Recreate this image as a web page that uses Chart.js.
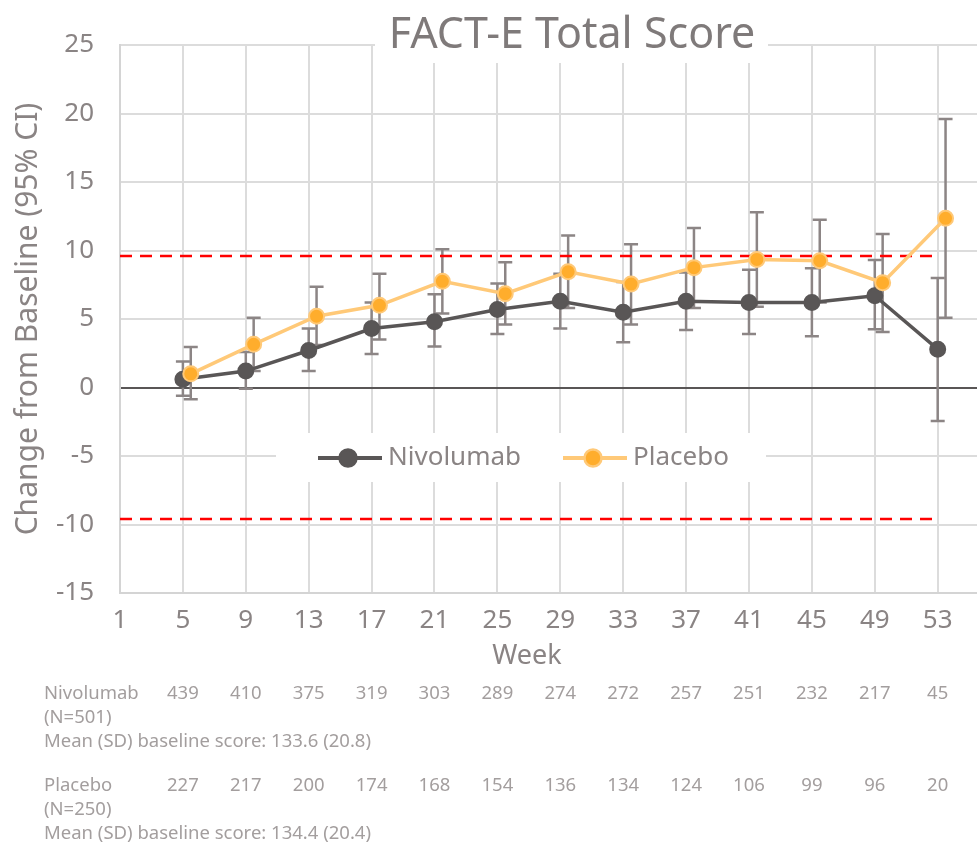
<!DOCTYPE html>
<html>
<head>
<meta charset="utf-8">
<title>FACT-E Total Score</title>
<script src="https://cdn.jsdelivr.net/npm/chart.js@4.4.1/dist/chart.umd.min.js"></script>
<style>
  html, body { margin: 0; padding: 0; background: #fff; }
  #contenedor { width: 977px; height: 843px; position: relative; }
</style>
</head>
<body>
<div id="contenedor"><canvas id="chartFact"></canvas></div>
<script>
// Section: datos

const semanasTick = [1, 5, 9, 13, 17, 21, 25, 29, 33, 37, 41, 45, 49, 53];
const semanas = [5, 9, 13, 17, 21, 25, 29, 33, 37, 41, 45, 49, 53];
const desfasePlacebo = 0.5; // placebo se dibuja un poco a la derecha

const nivoMedia = [0.6, 1.2, 2.7, 4.3, 4.8, 5.7, 6.3, 5.5, 6.3, 6.2, 6.2, 6.7, 2.8];
const nivoBajo = [-0.6, -0.1, 1.2, 2.45, 3.0, 3.9, 4.3, 3.3, 4.2, 3.9, 3.75, 4.25, -2.45];
const nivoAlto = [1.9, 2.6, 4.3, 6.2, 6.8, 7.6, 8.3, 7.7, 8.4, 8.6, 8.7, 9.3, 8.0];

const placeboMedia = [1.0, 3.15, 5.2, 6.0, 7.75, 6.85, 8.45, 7.55, 8.75, 9.35, 9.25, 7.65, 12.35];
const placeboBajo = [-0.85, 1.2, 3.1, 3.5, 5.4, 4.6, 5.8, 4.6, 5.8, 5.9, 6.2, 4.05, 5.1];
const placeboAlto = [2.95, 5.1, 7.35, 8.3, 10.1, 9.15, 11.1, 10.45, 11.65, 12.8, 12.25, 11.2, 19.6];

const umbralMID = 9.6;

const nivoN = [439, 410, 375, 319, 303, 289, 274, 272, 257, 251, 232, 217, 45];
const placeboN = [227, 217, 200, 174, 168, 154, 136, 134, 124, 106, 99, 96, 20];

const tablaFilas = [
  { nombre: "Nivolumab", total: "(N=501)", media: "Mean (SD) baseline score: 133.6 (20.8)", valores: nivoN },
  { nombre: "Placebo", total: "(N=250)", media: "Mean (SD) baseline score: 134.4 (20.4)", valores: placeboN },
];

// Section: estilos

const colorTexto = "#8a8484";
const colorNivo = "#595656";
const colorPlaceboLinea = "#ffc978";
const colorPlaceboPunto = "#ffad2c";
const colorError = "#8c8585";
const fuente = "'Noto Sans', 'DejaVu Sans', sans-serif";

Chart.defaults.font.family = fuente;
Chart.defaults.color = colorTexto;

// Section: plugins propios

const barrasError = {
  id: "barrasError",
  beforeDatasetsDraw(chart) {
    const ctx = chart.ctx;
    const ejeX = chart.scales.x;
    const ejeY = chart.scales.y;
    const series = [
      { bajo: nivoBajo, alto: nivoAlto, desfase: 0 },
      { bajo: placeboBajo, alto: placeboAlto, desfase: desfasePlacebo },
    ];
    ctx.save();
    ctx.strokeStyle = colorError;
    ctx.lineWidth = 2.5;
    series.forEach((serie) => {
      semanas.forEach((semana, i) => {
        const px = ejeX.getPixelForValue(semana + serie.desfase);
        const y1 = ejeY.getPixelForValue(serie.bajo[i]);
        const y2 = ejeY.getPixelForValue(serie.alto[i]);
        ctx.beginPath();
        ctx.moveTo(px, y1);
        ctx.lineTo(px, y2);
        ctx.moveTo(px - 7, y1);
        ctx.lineTo(px + 7, y1);
        ctx.moveTo(px - 7, y2);
        ctx.lineTo(px + 7, y2);
        ctx.stroke();
      });
    });
    ctx.restore();
  },
};

const tituloYLeyenda = {
  id: "tituloYLeyenda",
  afterDatasetsDraw(chart) {
    const ctx = chart.ctx;
    ctx.save();

    // leyenda con fondo blanco dentro del area
    ctx.fillStyle = "#fff";
    ctx.fillRect(276, 433, 490, 49);
    const items = [
      { texto: "Nivolumab", x: 318, linea: colorNivo, punto: colorNivo, borde: colorNivo },
      { texto: "Placebo", x: 563, linea: colorPlaceboLinea, punto: colorPlaceboPunto, borde: colorPlaceboLinea },
    ];
    const yLey = 458;
    items.forEach((item) => {
      ctx.strokeStyle = item.linea;
      ctx.lineWidth = 4;
      ctx.beginPath();
      ctx.moveTo(item.x, yLey);
      ctx.lineTo(item.x + 64, yLey);
      ctx.stroke();
      ctx.beginPath();
      ctx.arc(item.x + 30, yLey, 8.5, 0, Math.PI * 2);
      ctx.fillStyle = item.punto;
      ctx.fill();
      ctx.lineWidth = 2.5;
      ctx.strokeStyle = item.borde;
      ctx.stroke();
      ctx.fillStyle = colorTexto;
      ctx.font = "26px " + fuente;
      ctx.textAlign = "left";
      ctx.textBaseline = "middle";
      ctx.fillText(item.texto, item.x + 70, yLey);
    });

    // titulo con fondo blanco encima de la cuadricula
    ctx.fillStyle = "#fff";
    ctx.fillRect(375, 0, 393, 63);
    ctx.fillStyle = "#7f7a7a";
    ctx.font = "43px " + fuente;
    ctx.textAlign = "center";
    ctx.textBaseline = "alphabetic";
    ctx.fillText("FACT-E Total Score", 572, 48);

    ctx.restore();
  },
  afterDraw(chart) {
    const ctx = chart.ctx;
    const ejeX = chart.scales.x;
    ctx.save();

    // titulo del eje x, algo a la izquierda del centro como en el original
    ctx.fillStyle = colorTexto;
    ctx.font = "27px " + fuente;
    ctx.textAlign = "center";
    ctx.textBaseline = "middle";
    ctx.fillText("Week", 527, 656);

    // tabla de pacientes en riesgo
    ctx.fillStyle = "#a39e9e";
    ctx.font = "18.5px " + fuente;
    tablaFilas.forEach((fila, f) => {
      const y0 = 694 + f * 92;
      ctx.textAlign = "left";
      ctx.fillText(fila.nombre, 44, y0);
      ctx.fillText(fila.total, 44, y0 + 24);
      ctx.fillText(fila.media, 44, y0 + 48);
      ctx.textAlign = "center";
      fila.valores.forEach((v, i) => {
        ctx.fillText(String(v), ejeX.getPixelForValue(semanas[i]), y0);
      });
    });
    ctx.restore();
  },
};

// Section: grafico

const contexto = document.getElementById("chartFact").getContext("2d");

const puntos = (xs, ys, desfase) => xs.map((s, i) => ({ x: s + desfase, y: ys[i] }));

new Chart(contexto, {
  type: "line",
  data: {
    datasets: [
      {
        label: "Nivolumab",
        data: puntos(semanas, nivoMedia, 0),
        borderColor: colorNivo,
        backgroundColor: colorNivo,
        pointBackgroundColor: colorNivo,
        pointBorderColor: colorNivo,
        borderWidth: 3.5,
        pointRadius: 7.5,
        pointBorderWidth: 2,
        order: 2,
      },
      {
        label: "Placebo",
        data: puntos(semanas, placeboMedia, desfasePlacebo),
        borderColor: colorPlaceboLinea,
        backgroundColor: colorPlaceboPunto,
        pointBackgroundColor: colorPlaceboPunto,
        pointBorderColor: colorPlaceboLinea,
        borderWidth: 3.5,
        pointRadius: 7.5,
        pointBorderWidth: 2,
        order: 1,
      },
      {
        label: "MID+",
        data: [{ x: semanasTick[0], y: umbralMID }, { x: semanas[semanas.length - 1], y: umbralMID }],
        borderColor: "#ff0000",
        borderWidth: 2.5,
        borderDash: [12, 8],
        pointRadius: 0,
        order: 5,
      },
      {
        label: "MID-",
        data: [{ x: semanasTick[0], y: -umbralMID }, { x: semanas[semanas.length - 1], y: -umbralMID }],
        borderColor: "#ff0000",
        borderWidth: 2.5,
        borderDash: [12, 8],
        pointRadius: 0,
        order: 5,
      },
    ],
  },
  options: {
    responsive: true,
    maintainAspectRatio: false,
    animation: false,
    layout: { autoPadding: false, padding: { top: 45, right: 0, left: 0, bottom: 0 } },
    plugins: {
      legend: { display: false },
      tooltip: { enabled: false },
      title: { display: false },
    },
    scales: {
      x: {
        type: "linear",
        min: 1,
        max: 55.5,
        afterBuildTicks: (eje) => {
          eje.ticks = semanasTick.map((v) => ({ value: v }));
        },
        afterFit: (eje) => {
          eje.height = 250;
          eje.paddingLeft = 0;
          eje.paddingRight = 0;
        },
        ticks: {
          autoSkip: false,
          maxRotation: 0,
          padding: 12,
          font: { size: 26 },
          color: colorTexto,
        },
        grid: { color: "#dcdcdc", lineWidth: 2, drawTicks: false },
        border: { display: true, color: "#d4d4d4", width: 2 },
        title: { display: false },
      },
      y: {
        min: -15,
        max: 25,
        afterFit: (eje) => {
          eje.width = 120;
          eje.paddingTop = 0;
          eje.paddingBottom = 0;
        },
        ticks: {
          stepSize: 5,
          padding: 26,
          font: { size: 26 },
          color: colorTexto,
        },
        grid: {
          color: (c) => (c.tick && c.tick.value === 0 ? colorNivo : "#dcdcdc"),
          lineWidth: 2,
          drawTicks: false,
        },
        border: { display: true, color: "#d4d4d4", width: 2 },
        title: {
          display: true,
          text: "Change from Baseline (95% CI)",
          font: { size: 30 },
          color: colorTexto,
          padding: { top: 10, bottom: 0 },
        },
      },
    },
  },
  plugins: [barrasError, tituloYLeyenda],
});
</script>
</body>
</html>
